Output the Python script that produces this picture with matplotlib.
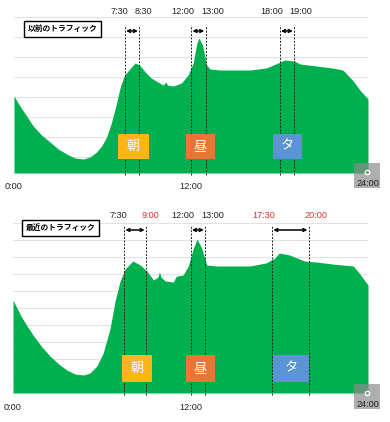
import matplotlib
matplotlib.use("Agg")
import matplotlib.pyplot as plt
from matplotlib.patches import Rectangle

plt.rcParams['font.family'] = ['Liberation Sans', 'Noto Sans CJK JP']

# traffic curves (hour, height above baseline)
hours_old = [0, 0.4, 0.86, 1.3, 1.87, 2.44, 3.0, 3.57, 4.13, 4.7, 5.15, 5.6, 5.94,
             6.28, 6.6, 6.95, 7.22, 7.5, 7.85, 8.2, 8.5, 8.9, 9.3,
             10.1, 10.3, 10.4, 10.8, 11.35, 11.8, 12.15, 12.4, 12.55, 12.8, 13.05, 13.3,
             14.0, 14.85, 16.0, 17.1, 17.9, 18.35, 19.0, 19.4, 20.5, 21.6, 22.3, 23.0,
             23.5, 24.0]
traffic_old = [77, 67, 57, 47, 38, 31, 24, 19, 15, 14, 16, 21, 27,
               36, 50, 70, 87, 98, 104, 110, 108, 101, 95,
               88, 91, 88, 87, 90, 98, 110, 130, 135, 127, 108, 104,
               103, 103, 103, 105, 110, 113, 112, 109, 107, 105, 103, 92,
               82, 74]

hours_new = [0, 0.5, 0.95, 1.4, 1.96, 2.5, 3.08, 3.64, 4.2, 4.77, 5.2, 5.67, 6.1,
             6.57, 6.9, 7.24, 7.58, 8.1, 8.6, 9.05, 9.5,
             9.8, 9.9, 10.0, 10.3, 10.85, 11.0, 11.1, 11.5, 11.85, 12.2, 12.45, 12.75,
             13.1, 13.8, 14.9, 16.0, 17.1, 17.7, 18.0, 18.7, 19.7, 20.5, 21.6, 23.0,
             23.4, 24.0]
traffic_new = [93, 78, 67, 57, 46, 37, 29, 23, 19, 18, 20, 27, 40,
               65, 92, 112, 124, 132, 128, 122, 113,
               116, 121, 116, 112, 111, 116, 117, 118, 127, 145, 154, 145,
               128, 127, 127, 127, 130, 135, 140, 138, 132, 131, 129, 127,
               120, 108]

# time markers
marks_old = [7.5, 8.5, 12, 13, 18, 19]
labels_old = ['7:30', '8:30', '12:00', '13:00', '18:00', '19:00']
colors_old = ['#222222'] * 6
marks_new = [7.5, 9, 12, 13, 17.5, 20]
labels_new = ['7:30', '9:00', '12:00', '13:00', '17:30', '20:00']
colors_new = ['#222222', '#d9302c', '#222222', '#222222', '#d9302c', '#d9302c']

periods = ['朝', '昼', 'タ']
period_colors = ['#fbb516', '#ed7434', '#5a94d2']
boxes_old = [(7.05, 9.15), (11.66, 13.63), (17.56, 19.53)]
boxes_new = [(7.37, 9.4), (11.7, 13.66), (17.58, 20.0)]

green = '#00b04f'
jp = ['Noto Sans CJK JP', 'DejaVu Sans']

fig = plt.figure(figsize=(3.9, 4.22), dpi=100)
W, H = 390.0, 422.0


def panel(left, top, bottom, ymax, hours, traffic, grid, marks, labels, lcolors,
          title, tbox, boxes, label_y, arrow_y, dash_top, cbox, xlab_y):
    ax = fig.add_axes([left / W, (H - bottom) / H, (368 - left) / W, (bottom - top) / H])
    ax.set_xlim(0, 24)
    ax.set_ylim(0, ymax)
    ax.axis('off')
    for g in grid:
        ax.plot([0, 24], [g, g], color='#e2e2e2', lw=0.8, zorder=0)
    ax.fill_between(hours, 0, traffic, color=green, lw=0, zorder=1)
    for i, (m, lab, c) in enumerate(zip(marks, labels, lcolors)):
        ax.plot([m, m], [-2, dash_top], color='#222222', lw=0.7, ls=(0, (2, 1.5)),
                zorder=3, clip_on=False)
        if i % 2 == 0:
            ax.text(m + 0.25, label_y, lab, ha='right', va='center', fontsize=6.6,
                    color=c, clip_on=False)
        else:
            ax.text(m - 0.3, label_y, lab, ha='left', va='center', fontsize=6.6,
                    color=c, clip_on=False)
    for a, b in zip(marks[::2], marks[1::2]):
        ax.annotate('', xy=(a + 0.1, arrow_y), xytext=(b - 0.1, arrow_y),
                    arrowprops=dict(arrowstyle='<->', color='black', lw=1.1,
                                    mutation_scale=5, shrinkA=0, shrinkB=0),
                    annotation_clip=False)
    for (a, b), name, c in zip(boxes, periods, period_colors):
        ax.add_patch(Rectangle((a, cbox[0]), b - a, cbox[1] - cbox[0], color=c,
                               lw=0, zorder=4))
        ax.text((a + b) / 2, (cbox[0] + cbox[1]) / 2, name, ha='center', va='center',
                fontsize=9.5, color='white', family=jp, zorder=5)
    ax.text(tbox, arrow_y + 2.5, title, ha='center', va='center', fontsize=5.6,
            fontweight='bold', family=jp, zorder=5,
            bbox=dict(boxstyle='square,pad=0.45', fc='white', ec='black', lw=1.0))
    ax.text(0, xlab_y, '0:00', ha='center', va='center', fontsize=6.6, color='#222222')
    ax.text(12, xlab_y, '12:00', ha='center', va='center', fontsize=6.6, color='#222222')
    ax.add_patch(Rectangle((23.05, xlab_y - 1), 1.75, 25, color='#8c8c8c', alpha=0.7,
                           lw=0, zorder=6, clip_on=False))
    ax.plot([23.95], [xlab_y + 15], 'o', ms=3.2, mfc='none', mec='white', mew=0.9,
            zorder=7, clip_on=False)
    ax.text(24, xlab_y + 3.5, '24:00', ha='center', va='center', fontsize=6.6,
            color='#222222', zorder=7, clip_on=False)
    return ax


panel(14, 0, 173, 173, hours_old, traffic_old, [156, 136, 116, 96, 76, 56, 36, 16],
      marks_old, labels_old, colors_old, '以前のトラフィック', 3.3, boxes_old,
      161, 142, 148, (14, 39), -14)
panel(13, 211, 393, 182, hours_new, traffic_new,
      [170, 153, 136, 119, 102, 85, 68, 51, 34, 17],
      marks_new, labels_new, colors_new, '最近のトラフィック', 3.2, boxes_new,
      177, 163, 167, (11, 38), -15)

fig.savefig('out.png', dpi=100)
